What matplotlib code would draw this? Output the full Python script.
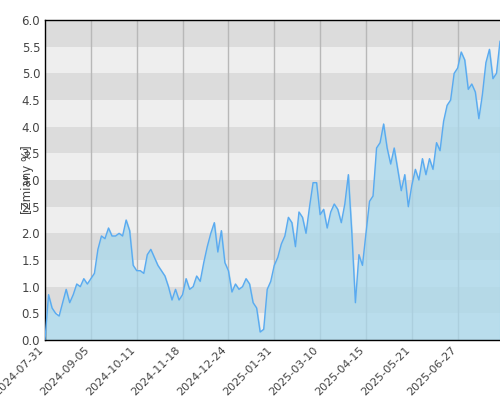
import matplotlib
matplotlib.use('Agg')
import matplotlib.pyplot as plt
import numpy as np

# wartosci co ok. 3 dni sesyjne
values = [0, 0.85, 0.6, 0.5, 0.45, 0.7, 0.95, 0.7, 0.85, 1.05, 1.0, 1.15, 1.05,
          1.15, 1.25, 1.7, 1.95, 1.9, 2.1, 1.95, 1.95, 2.0, 1.95, 2.25, 2.05, 1.4,
          1.3, 1.3, 1.25, 1.6, 1.7, 1.55, 1.4, 1.3, 1.2, 1.0, 0.75, 0.95, 0.75,
          0.85, 1.15, 0.95, 1.0, 1.2, 1.1, 1.45, 1.75, 2.0, 2.2, 1.65, 2.05, 1.45,
          1.3, 0.9, 1.05, 0.95, 1.0, 1.15, 1.05, 0.7, 0.6, 0.15, 0.2, 0.95, 1.1,
          1.4, 1.55, 1.8, 1.95, 2.3, 2.2, 1.75, 2.4, 2.3, 2.0, 2.5, 2.95, 2.95,
          2.35, 2.45, 2.1, 2.4, 2.55, 2.45, 2.2, 2.55, 3.1, 2.0, 0.7, 1.6, 1.4,
          2.0, 2.6, 2.7, 3.6, 3.7, 4.05, 3.6, 3.3, 3.6, 3.2, 2.8, 3.1, 2.5,
          2.9, 3.2, 3.0, 3.4, 3.1, 3.4, 3.2, 3.7, 3.55, 4.1, 4.4, 4.5, 5.0,
          5.1, 5.4, 5.25, 4.7, 4.8, 4.65, 4.15, 4.6, 5.2, 5.45, 4.9, 5.0, 5.6]
tick_labels = ['2024-07-31', '2024-09-05', '2024-10-11', '2024-11-18', '2024-12-24',
               '2025-01-31', '2025-03-10', '2025-04-15', '2025-05-21', '2025-06-27']

x = np.arange(len(values))
fig = plt.figure(figsize=(5, 4), dpi=100)
ax = fig.add_axes([0.09, 0.15, 0.91, 0.80])

# pasy tla
for i in range(12):
    ax.axhspan(i * 0.5, (i + 1) * 0.5, color='#dcdcdc' if i % 2 else '#eeeeee', lw=0, zorder=0)

ticks = x[::13][:len(tick_labels)]
for t in ticks[1:]:
    ax.axvline(t, color='#b8b8b8', lw=1, zorder=1)

ax.fill_between(x, values, 0, color='#a8d8ec', alpha=0.75, zorder=2)
ax.plot(x, values, color='#5aaaf0', lw=1, zorder=3)

ax.set_xlim(0, len(values) - 1)
ax.set_ylim(0, 6)
ax.set_yticks(np.arange(0, 6.01, 0.5))
ax.set_yticklabels(['%.1f' % v for v in np.arange(0, 6.01, 0.5)], fontsize=8.5, color='#444444')
ax.set_xticks(ticks)
ax.set_xticklabels(tick_labels, rotation=45, ha='right', fontsize=8, color='#444444')
ax.tick_params(length=0)
ax.set_ylabel('[Zmiany %]', fontsize=8.5, color='#444444', labelpad=-9)
for s in ax.spines.values():
    s.set_linewidth(1)
ax.spines['right'].set_visible(False)

fig.savefig('out.png')
